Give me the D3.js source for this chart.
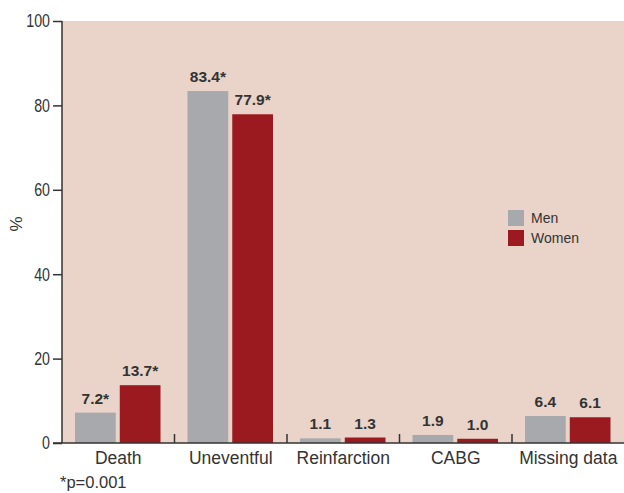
<!DOCTYPE html>
<html><head><meta charset="utf-8">
<script src="https://cdn.jsdelivr.net/npm/d3@7"></script>
<style>body{margin:0;background:#fff}svg{display:block}</style>
</head><body><svg id="c" width="624" height="493"></svg>
<script>
const categories = ["Death","Uneventful","Reinfarction","CABG","Missing data"];
const series = ["Men","Women"];
const men = [7.2, 83.4, 1.1, 1.9, 6.4];
const women = [13.7, 77.9, 1.3, 1.0, 6.1];
const labelsMen = ["7.2*","83.4*","1.1","1.9","6.4"];
const labelsWomen = ["13.7*","77.9*","1.3","1.0","6.1"];
const yTicks = [0,20,40,60,80,100];
const colors = ["#a7a9ac","#9a1a20"];
const sans = "'Liberation Sans','Arial',sans-serif";

const svg = d3.select("#c");
const L=62, R=624.5, T=21, B=443;
const x = d3.scaleBand().domain(categories).range([L,R]).paddingInner(0).paddingOuter(0);
const xs = d3.scaleBand().domain(series).range([13, x.bandwidth()-14]).paddingInner(0.09);
const y = d3.scaleLinear().domain([0,100]).range([B,T]);

svg.append("rect").attr("x",L).attr("y",T).attr("width",R-L).attr("height",B-T).attr("fill","#ead3c8");

const data = [men, women];
const g = svg.append("g");
categories.forEach((c,i)=>{
  series.forEach((s,j)=>{
    const v = data[j][i];
    g.append("rect").attr("x",x(c)+xs(s)).attr("y",y(v)).attr("width",xs.bandwidth()).attr("height",B-y(v)).attr("fill",colors[j]);
    g.append("text").attr("x",x(c)+xs(s)+xs.bandwidth()/2).attr("y",y(v)-9)
      .attr("text-anchor","middle").attr("font-family",sans).attr("font-weight","bold")
      .attr("font-size",15.5).attr("fill","#333").text(j===0?labelsMen[i]:labelsWomen[i]);
  });
});

// y axis
const ya = svg.append("g").attr("transform",`translate(${L},0)`).call(d3.axisLeft(y).tickValues(yTicks).tickSize(9).tickPadding(3));
ya.select(".domain").attr("stroke","#333").attr("stroke-width",1.5).attr("d",`M0,${T}V${B}`);
ya.selectAll(".tick line").attr("stroke","#333").attr("stroke-width",1.5);
ya.selectAll(".tick text").attr("font-family",sans).attr("font-size",18.5).attr("fill","#333")
  .attr("textLength",d=>String(d).length*7.9).attr("lengthAdjust","spacingAndGlyphs");

// x axis
const xa = svg.append("g").attr("transform",`translate(0,${B})`).call(d3.axisBottom(x).tickSize(0).tickPadding(9));
xa.select(".domain").attr("stroke","#333").attr("stroke-width",1.5).attr("d",`M${L-9},0H${R}`);
xa.selectAll(".tick text").attr("font-family",sans).attr("font-size",17.5).attr("fill","#333");
// separator ticks pointing up
categories.slice(1).forEach(c=>{
  svg.append("line").attr("x1",x(c)).attr("x2",x(c)).attr("y1",B).attr("y2",B-9).attr("stroke","#333").attr("stroke-width",1.5);
});

svg.append("text").attr("transform","translate(22,224) rotate(-90)").attr("text-anchor","middle")
  .attr("font-family",sans).attr("font-size",17).attr("fill","#333").text("%");

svg.append("text").attr("x",60).attr("y",488).attr("font-family",sans)
  .attr("font-size",16.5).attr("fill","#333").text("*p=0.001");

// legend
const lg = svg.append("g").attr("transform","translate(508,210)");
series.forEach((s,j)=>{
  lg.append("rect").attr("x",0).attr("y",j*20).attr("width",16).attr("height",16).attr("fill",colors[j]);
  lg.append("text").attr("x",23).attr("y",j*20+13).attr("font-family",sans)
    .attr("font-size",14).attr("fill","#333").text(s);
});
</script></body></html>
